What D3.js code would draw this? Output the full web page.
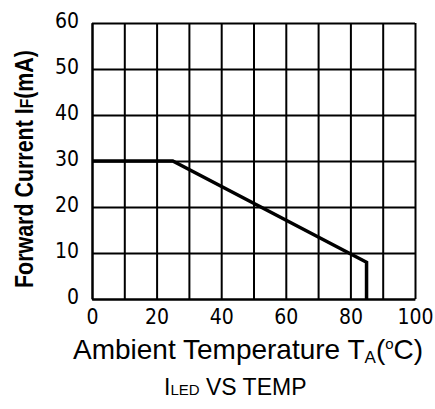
<!DOCTYPE html>
<html lang="en">

<head>
  <title>ILED VS TEMP</title>
  <meta charset="UTF-8">
  <script src="https://cdn.jsdelivr.net/npm/d3@7"></script>
  <style>
    body { margin: 0; background: #fff; }
    .tick text { font-family: "DejaVu Sans Condensed", "DejaVu Sans", sans-serif; font-stretch: condensed; }
  </style>
</head>

<body>
  <div id="box"></div>
  <script>
    // data
    const xTicks = [0, 10, 20, 30, 40, 50, 60, 70, 80, 90, 100]
    const xLabels = [0, 20, 40, 60, 80, 100]
    const yTicks = [0, 10, 20, 30, 40, 50, 60]
    // derating curve: temperature (°C) -> forward current (mA)
    const tempData = [0, 25, 85, 85]
    const currentData = [30, 30, 8, 0]

    const width = 435
    const height = 409
    const margin = { left: 92, right: 20, top: 23, bottom: 110 }

    const svg = d3.select('#box').append('svg')
      .attr('width', width)
      .attr('height', height)

    const xScale = d3.scaleLinear().domain([0, 100]).range([margin.left, width - margin.right])
    const yScale = d3.scaleLinear().domain([0, 60]).range([height - margin.bottom, margin.top])
    const plotW = xScale(100) - xScale(0)
    const plotH = yScale(0) - yScale(60)

    // x axis + vertical grid
    const xAxis = d3.axisBottom(xScale)
      .tickValues(xTicks)
      .tickSizeInner(-plotH)
      .tickSizeOuter(0)
      .tickPadding(10)
      .tickFormat(d => xLabels.includes(d) ? d : '')
    svg.append('g')
      .attr('transform', `translate(0,${yScale(0)})`)
      .call(xAxis)
      .attr('font-size', 21)
      .call(g => g.selectAll('line, path').attr('stroke', '#000').attr('stroke-width', 2))
      .call(g => g.selectAll('text').attr('fill', '#000'))

    // y axis + horizontal grid
    const yAxis = d3.axisLeft(yScale)
      .tickValues(yTicks)
      .tickSizeInner(-plotW)
      .tickSizeOuter(0)
      .tickPadding(13)
    svg.append('g')
      .attr('transform', `translate(${xScale(0)},0)`)
      .call(yAxis)
      .attr('font-size', 21)
      .call(g => g.selectAll('line, path').attr('stroke', '#000').attr('stroke-width', 2))
      .call(g => g.selectAll('text').attr('fill', '#000').attr('dy', '0.2em'))

    // curve
    const line = d3.line()
      .x((d, i) => xScale(tempData[i]))
      .y((d, i) => yScale(currentData[i]))
    svg.append('path')
      .datum(tempData)
      .attr('d', line)
      .attr('fill', 'none')
      .attr('stroke', '#000')
      .attr('stroke-width', 3.5)

    // y title
    const yt = svg.append('text')
      .attr('transform', 'translate(33,169) rotate(-90) scale(1,1.4)')
      .attr('text-anchor', 'middle')
      .attr('font-family', '"Liberation Sans", Arial, sans-serif')
      .attr('font-weight', 'bold')
      .attr('font-size', 18)
      .attr('textLength', 238)
      .attr('lengthAdjust', 'spacingAndGlyphs')
    yt.append('tspan').text('Forward Current I')
    yt.append('tspan').attr('font-size', 13).text('F')
    yt.append('tspan').text('(mA)')

    // x title
    const xt = svg.append('text')
      .attr('x', 73)
      .attr('y', 359)
      .attr('font-family', '"Liberation Sans", Arial, sans-serif')
      .attr('font-size', 28)
    xt.append('tspan').text('Ambient Temperature T')
    xt.append('tspan').attr('font-size', 17).attr('dy', 4).text('A')
    xt.append('tspan').attr('dy', -4).text('(')
    xt.append('tspan').attr('font-size', 15).attr('dy', -10).text('o')
    xt.append('tspan').attr('dy', 10).text('C)')

    // caption
    const cap = svg.append('text')
      .attr('x', 164)
      .attr('y', 395)
      .attr('font-family', '"Liberation Sans", Arial, sans-serif')
      .attr('font-size', 23)
    cap.append('tspan').text('I')
    cap.append('tspan').attr('font-size', 15).text('LED')
    cap.append('tspan').text(' VS TEMP')
  </script>
</body>

</html>
